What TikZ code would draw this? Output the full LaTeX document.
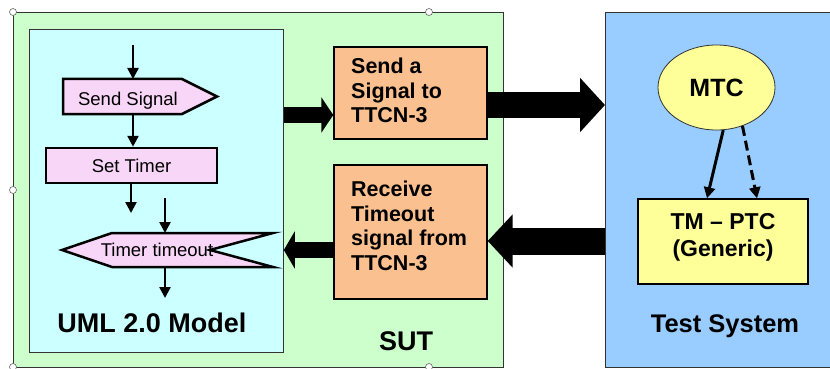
\documentclass[tikz,border=0pt]{standalone}
\usepackage{fontspec}
\setmainfont{Liberation Sans}
\usepackage{tikz}
\usetikzlibrary{arrows.meta, shapes.geometric, calc}

\definecolor{sutgreen}{HTML}{CCFFCC}
\definecolor{umlcyan}{HTML}{CCFFFF}
\definecolor{ttcnorange}{HTML}{FAC090}
\definecolor{flowpink}{HTML}{F8D6F8}
\definecolor{tsblue}{HTML}{99CCFF}
\definecolor{compyellow}{HTML}{FFFF99}

\tikzset{
  panel/.style={draw=black!80, line width=0.8pt, anchor=north west, inner sep=0pt},
  handle/.style={draw=black!60, fill=white, line width=0.6pt},
  flowshape/.style={draw=black, line width=2.5pt, fill=flowpink, line join=miter},
  flowbox/.style={flowshape, minimum width=171pt, minimum height=35pt, inner sep=0pt,
    font=\fontsize{18.5}{21}\selectfont},
  flowtext/.style={font=\fontsize{18.5}{21}\selectfont, inner sep=0pt},
  flowarrow/.style={draw=black, line width=2.5pt, -{Triangle[length=11pt,width=11pt]}},
  ttcnbox/.style={draw=black, line width=1.4pt, fill=ttcnorange, minimum width=153pt, inner sep=0pt},
  ttcntext/.style={font=\bfseries\fontsize{21.5}{24.5}\selectfont, align=left,
    anchor=north west, inner sep=0pt},
  fatarrow/.style={draw=black, line cap=butt},
  title/.style={font=\bfseries\fontsize{27}{30}\selectfont, anchor=base, inner sep=0pt}
}

\begin{document}
\begin{tikzpicture}[x=1pt,y=-1pt]
\useasboundingbox (0,0) rectangle (830,369);
% panels
\node[panel, fill=sutgreen, minimum width=490pt, minimum height=355pt] (sut) at (13,12) {};
\node[panel, fill=tsblue, minimum width=240pt, minimum height=355pt] (ts) at (605,12) {};
\node[panel, fill=umlcyan, minimum width=254pt, minimum height=323pt] (uml) at (29,29) {};
\foreach \hx/\hy in {13/12,13/190,13/367,429/12,429/367}
  \draw[handle] (\hx,\hy) circle (3.5pt);

% UML flow chart
\draw[flowshape] (63,79) -- (182,79) -- (217,96.5) -- (182,114) -- (63,114) -- cycle;
\node[flowtext, anchor=base] (sendsig) at (128,105) {Send Signal};
\node[flowbox] (settimer) at (131.5,165.5) {Set Timer};
\draw[flowshape] (62,250) -- (112,233) -- (273,233) -- (210,250) -- (273,267) -- (112,267) -- cycle;
\node[flowtext, anchor=base] (timeout) at (157,256) {Timer timeout};

\coordinate (sigin) at (133,45);
\coordinate (sigtop) at (133,79);
\coordinate (sigbot) at (133,114);
\coordinate (tmrout) at (131,213);
\coordinate (toin) at (165,198);
\coordinate (totop) at (165,233);
\coordinate (tobot) at (165,267);
\coordinate (toout) at (165,298);
\draw[flowarrow] (sigin) -- (sigtop);
\draw[flowarrow] (sigbot) -- (sigbot |- settimer.north);
\draw[flowarrow] (tmrout |- settimer.south) -- (tmrout);
\draw[flowarrow] (toin) -- (totop);
\draw[flowarrow] (tobot) -- (toout);

\node[title] (umltitle) at (152,332) {UML 2.0 Model};

% SUT adapter boxes
\node[ttcnbox, minimum height=92pt] (send) at (410.5,93) {};
\node[ttcntext] (sendtxt) at (351,58) {Send a\\Signal to\\TTCN-3};
\node[ttcnbox, minimum height=134pt] (recv) at (410.5,232) {};
\node[ttcntext] (recvtxt) at (351,181) {Receive\\Timeout\\signal from\\TTCN-3};
\node[title] (suttitle) at (406,350) {SUT};

% test system
\node[ellipse, draw=black!80, line width=0.8pt, fill=compyellow, minimum width=117pt,
  minimum height=85pt, inner sep=0pt, font=\bfseries\fontsize{25}{28}\selectfont] (mtc) at (716.5,87.5) {MTC};
\node[draw=black, line width=1.4pt, fill=compyellow, minimum width=170pt, minimum height=85pt,
  inner sep=0pt] (tm) at (723,241.5) {};
\node[font=\bfseries\fontsize{23}{27}\selectfont, align=center, anchor=north, inner sep=0pt]
  (tmtxt) at (723,213) {TM -- PTC\\(Generic)};
\node[title, font=\bfseries\fontsize{25.5}{30}\selectfont] (tstitle) at (725,332) {Test System};
\draw[flowarrow, line width=3pt] (mtc.-81) -- ($(tm.north)+(-16,0)$);
\draw[flowarrow, line width=3pt, dash pattern=on 10pt off 5pt] (mtc.-56) -- ($(tm.north)+(34,0)$);

% fat arrows
\coordinate (a1) at ([yshift=-22pt]send.west);
\coordinate (a2) at ([yshift=-18pt]recv.west);
\coordinate (a3) at ([yshift=-12pt]send.east);
\coordinate (a4) at ([yshift=-9pt]recv.east);
\draw[fatarrow, line width=16pt, -{Triangle[length=12pt,width=35pt]}] (uml.east |- a1) -- (a1);
\draw[fatarrow, line width=16pt, -{Triangle[length=11pt,width=37pt]}] (a2) -- (a2 -| uml.east);
\draw[fatarrow, line width=26pt, -{Triangle[length=25pt,width=53pt]}] (a3) -- (a3 -| ts.west);
\draw[fatarrow, line width=27pt, -{Triangle[length=25pt,width=52pt]}] (a4 -| ts.west) -- (a4);
\end{tikzpicture}
\end{document}
